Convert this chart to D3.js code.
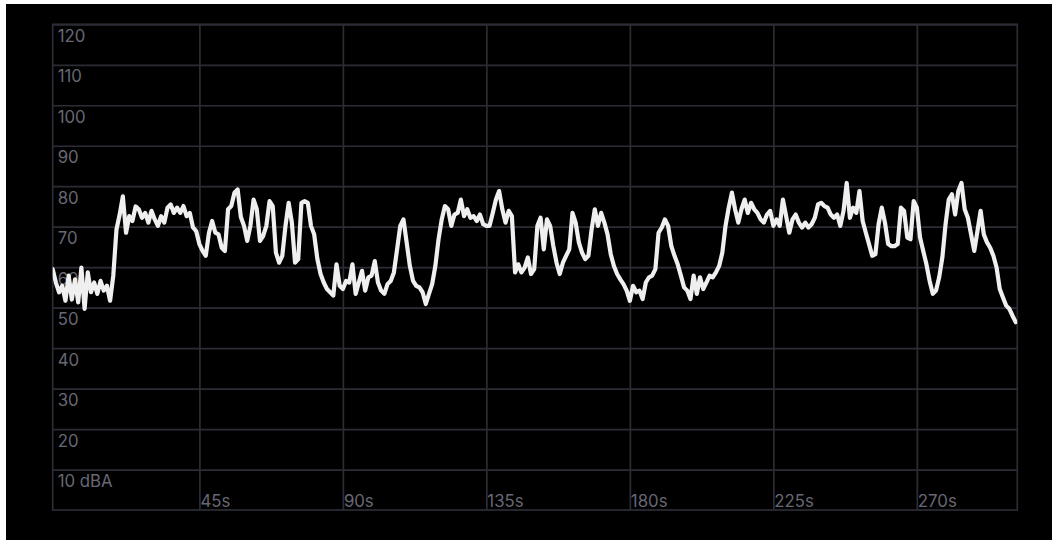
<!DOCTYPE html>
<html>
<head>
<meta charset="utf-8">
<script src="https://cdn.jsdelivr.net/npm/d3@7"></script>
<style>
  html, body { margin: 0; padding: 0; background: #ffffff; }
  svg { display: block; }
</style>
</head>
<body>
<svg id="chart" width="1052" height="540"></svg>
<script>
// ---- data ----
const startSecond = -1; // first sample time (s), one sample per second
const levels = [
  59.5, 56.2, 53.8, 55.4, 51.7, 57.9, 52, 57, 51.3, 59.9,
  49.7, 58.7, 53.8, 56.2, 53.4, 56.6, 54.2, 55.4, 51.7, 57.9,
  69.3, 73, 77.5, 68.5, 72.6, 71.4, 75, 74.3, 72.2, 73.4,
  71, 73.9, 71.8, 70.2, 72.6, 71, 74.7, 75.5, 73.4, 74.7,
  73.4, 75.1, 72.6, 73.4, 69.8, 68.9, 65.7, 64, 62.8, 68.5,
  71.4, 68.5, 68.1, 64.8, 64, 74.3, 75.1, 78.4, 79.2, 72.4,
  70.2, 66.5, 70.2, 76.7, 74.3, 66.5, 67.7, 70.2, 76.3, 75.1,
  63.6, 61.1, 62.8, 70.2, 75.9, 71, 61.1, 62, 75.9, 76.3,
  75.9, 70.2, 68.1, 62, 58.3, 56.2, 54.6, 53.8, 53, 60.7,
  55.4, 54.6, 56.6, 56.2, 60.7, 53.4, 56.2, 59.1, 54.2, 57.5,
  57.9, 61.5, 56.2, 54.2, 53.4, 55.8, 56.6, 58.7, 64.4, 70.2,
  71.8, 66.1, 60.3, 56.6, 55.4, 55, 53.8, 50.9, 53.4, 55.8,
  60.3, 66.9, 71.8, 75.1, 74.3, 70.2, 73, 73.4, 76.7, 72.6,
  74.3, 72.2, 72.6, 71.4, 73, 70.6, 70.2, 70.2, 73.4, 76.7,
  78.8, 74.3, 71, 73.9, 72.6, 58.7, 60.7, 58.7, 59.9, 62.4,
  58.3, 59.5, 70.2, 72.2, 64.4, 71.8, 70.2, 65.2, 61.1, 58.3,
  61.1, 62.8, 64.4, 73.4, 71, 66.1, 63.6, 62, 62.8, 69.3,
  74.3, 70.2, 73.4, 71, 68.1, 63.2, 60.3, 58.3, 57, 55.8,
  54.2, 51.7, 55.4, 53.8, 54.2, 52.1, 56.2, 57.5, 57.9, 59.5,
  68.5, 69.8, 71.8, 70.2, 65.2, 62.8, 60.7, 57.9, 55, 54.2,
  52.1, 57.9, 53.4, 57.5, 54.6, 56.2, 57.9, 57.5, 58.7, 60.3,
  63.6, 70.2, 74.7, 78.4, 74.3, 71, 74.3, 76.7, 73.4, 75.9,
  74.3, 73.4, 71.8, 71, 73, 73.9, 70.2, 71.8, 70.2, 76.7,
  72.6, 68.5, 71.8, 73, 71, 69.8, 71, 69.8, 70.6, 72.2,
  75.5, 75.9, 75.1, 74.7, 73, 72.2, 73, 70.2, 73.9, 80.8,
  72.2, 74.7, 73.4, 78.8, 71.4, 68.5, 65.7, 62.8, 63.2, 70.6,
  74.7, 71, 65.7, 65.2, 65.2, 65.7, 74.7, 73.9, 67.3, 66.9,
  76.3, 74.7, 67.3, 64, 60.7, 56.6, 53.4, 54.2, 57.5, 62.4,
  70.6, 76.7, 78, 73, 78.8, 80.8, 74.3, 72.2, 68.1, 64,
  68.9, 73.9, 68.1, 66.1, 64.8, 62.8, 59.9, 54.6, 52.5, 50.5,
  49.7, 48, 46.4
];
const yTickValues = [10, 20, 30, 40, 50, 60, 70, 80, 90, 100, 110, 120];
const yTickLabels = ["10 dBA", "20", "30", "40", "50", "60", "70", "80", "90", "100", "110", "120"];
const xTickValues = [45, 90, 135, 180, 225, 270];
const xTickLabels = ["45s", "90s", "135s", "180s", "225s", "270s"];
const timeDomain = [-1, 301.5];
const levelDomain = [0, 120];

// ---- layout ----
const svg = d3.select("#chart");
const plot = { left: 52.7, right: 1017.3, top: 24.3, bottom: 510 };
const gridColor = "#2c2c36";
const textColor = "#686874";
const fontFamily = "Inter, 'Noto Sans', 'DejaVu Sans', sans-serif";
const fontSize = 16.8;

svg.append("rect")
  .attr("x", 6).attr("y", 4).attr("width", 1046).attr("height", 536)
  .attr("fill", "#000000");

const x = d3.scaleLinear().domain(timeDomain).range([plot.left, plot.right]);
const y = d3.scaleLinear().domain(levelDomain).range([plot.bottom, plot.top]);

// horizontal grid lines
const yAxis = d3.axisRight(y)
  .tickValues(yTickValues)
  .tickSize(plot.right - plot.left)
  .tickFormat(() => "");
const gy = svg.append("g").attr("transform", `translate(${plot.left},0)`).call(yAxis);
gy.select(".domain").remove();
gy.selectAll(".tick line").attr("stroke", gridColor).attr("stroke-width", 1.7);

// y labels just below their grid line
svg.append("g").selectAll("text")
  .data(yTickValues)
  .join("text")
  .attr("x", plot.left + 5)
  .attr("y", d => y(d) + 17.5)
  .attr("fill", textColor)
  .attr("font-family", fontFamily)
  .attr("font-size", fontSize)
  .text((d, i) => yTickLabels[i]);

// vertical grid lines + labels
const xAxis = d3.axisTop(x)
  .tickValues(xTickValues)
  .tickSize(plot.bottom - plot.top)
  .tickFormat((d, i) => xTickLabels[i]);
const gx = svg.append("g").attr("transform", `translate(0,${plot.bottom})`).call(xAxis);
gx.select(".domain").remove();
gx.selectAll(".tick line").attr("stroke", gridColor).attr("stroke-width", 1.7);
gx.selectAll(".tick text")
  .attr("fill", textColor)
  .attr("font-family", fontFamily)
  .attr("font-size", fontSize)
  .attr("text-anchor", "start")
  .attr("x", 0.5)
  .attr("y", -3)
  .attr("dy", 0);

// plot border
svg.append("rect")
  .attr("x", plot.left).attr("y", plot.top)
  .attr("width", plot.right - plot.left).attr("height", plot.bottom - plot.top)
  .attr("fill", "none").attr("stroke", gridColor).attr("stroke-width", 1.7);

// level line
const points = levels.map((v, i) => ({ t: startSecond + i, v }));
svg.append("clipPath").attr("id", "clip")
  .append("rect")
  .attr("x", plot.left).attr("y", plot.top)
  .attr("width", plot.right - plot.left).attr("height", plot.bottom - plot.top);

svg.append("path")
  .datum(points)
  .attr("clip-path", "url(#clip)")
  .attr("fill", "none")
  .attr("stroke", "#efefef")
  .attr("stroke-width", 4.2)
  .attr("stroke-linejoin", "round")
  .attr("stroke-linecap", "round")
  .attr("d", d3.line().x(d => x(d.t)).y(d => y(d.v)));
</script>
</body>
</html>
